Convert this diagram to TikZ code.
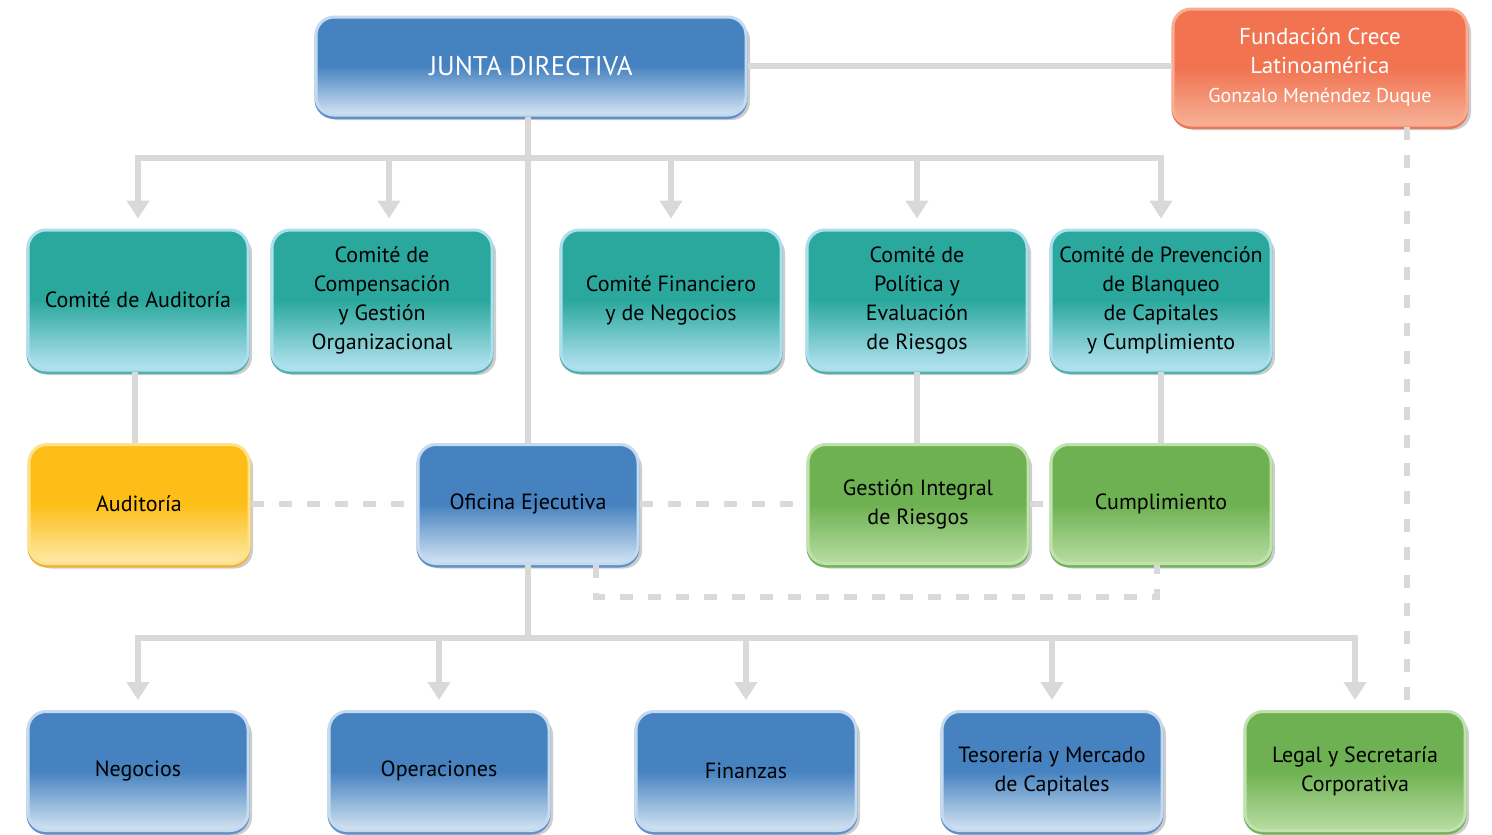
\documentclass[tikz,border=0pt]{standalone}
\usepackage{fontspec}
\setmainfont{PT Sans}
\usetikzlibrary{positioning, arrows.meta, shadows}

\definecolor{lnGray}{RGB}{217,217,218}
\definecolor{bluDk}{RGB}{70,130,192}
\definecolor{bluLt}{RGB}{212,228,242}
\definecolor{bluRim}{RGB}{196,219,239}
\definecolor{bluEdge}{RGB}{98,144,200}
\definecolor{tealDk}{RGB}{42,168,157}
\definecolor{tealLt}{RGB}{183,228,243}
\definecolor{tealRim}{RGB}{172,222,238}
\definecolor{tealEdge}{RGB}{86,176,170}
\definecolor{ylwDk}{RGB}{253,190,24}
\definecolor{ylwLt}{RGB}{253,234,168}
\definecolor{ylwRim}{RGB}{253,226,140}
\definecolor{ylwEdge}{RGB}{238,178,62}
\definecolor{grnDk}{RGB}{110,177,82}
\definecolor{grnLt}{RGB}{185,221,162}
\definecolor{grnRim}{RGB}{192,226,172}
\definecolor{grnEdge}{RGB}{118,178,92}
\definecolor{orgDk}{RGB}{241,115,80}
\definecolor{orgLt}{RGB}{246,176,150}
\definecolor{orgRim}{RGB}{247,172,148}
\definecolor{orgEdge}{RGB}{234,118,88}

\begin{document}
\begin{tikzpicture}[x=1pt, y=-1pt,
  box/.style={rounded corners=18pt, align=center, line width=3pt, inner sep=4pt,
              minimum width=220pt, font=\fontsize{22}{29}\selectfont,
              drop shadow={shadow xshift=4pt, shadow yshift=-5pt, opacity=.28, fill=black!70},
              general shadow={shadow yshift=-2.5pt, fill=#1Edge, draw=#1Edge, line width=3pt},
              draw=#1Rim, top color=#1Dk, bottom color=#1Lt, middle color=#1Dk},
  cmt/.style={box=teal, minimum height=140pt},
  unit/.style={box=#1, minimum height=119pt},
  ln/.style={draw=lnGray, line width=6pt},
  arr/.style={ln, -{Triangle[width=22pt, length=18pt]}, shorten >=10pt},
  dsh/.style={ln, dash pattern=on 13pt off 15pt}]
\useasboundingbox (0,0) rectangle (1492,835);
% Board and foundation.
\node[box=blu, text=white, minimum width=430pt, minimum height=98pt,
      font=\fontsize{27}{30}\selectfont] (junta) at (531,66) {JUNTA DIRECTIVA};
\node[box=org, text=white, minimum width=294pt, minimum height=116pt,
      font=\fontsize{23}{29}\selectfont] (fund) at (1320,67)
  {Fundación Crece\\Latinoamérica\\{\fontsize{20}{24}\selectfont Gonzalo Menéndez Duque}};
% Committees.
\node[cmt] (cAud) at (138,300) {Comité de Auditoría};
\node[cmt] (cComp) at (382,300) {Comité de\\Compensación\\y Gestión\\Organizacional};
\node[cmt] (cFin) at (671,300) {Comité Financiero\\y de Negocios};
\node[cmt] (cPol) at (917,300) {Comité de\\Política y\\Evaluación\\de Riesgos};
\node[cmt] (cPrev) at (1161,300) {Comité de Prevención\\de Blanqueo\\de Capitales\\y Cumplimiento};
% Control units and executive office.
\node[unit=ylw] (aud) at (139,504) {Auditoría};
\node[unit=blu] (ofi) at (528,504) {Oficina Ejecutiva};
\node[unit=grn] (gest) at (918,504) {Gestión Integral\\de Riesgos};
\node[unit=grn] (cump) at (1161,504) {Cumplimiento};
% Operating areas.
\node[unit=blu] (neg) at (138,771) {Negocios};
\node[unit=blu] (ope) at (439,771) {Operaciones};
\node[unit=blu] (fin) at (746,771) {Finanzas};
\node[unit=blu] (tes) at (1052,771) {Tesorería y Mercado\\de Capitales};
\node[unit=grn] (legal) at (1355,771) {Legal y Secretaría\\Corporativa};
% Solid reporting lines.
\coordinate (topBar) at (ofi.north |- 0,158);
\coordinate (lowBar) at (ofi.south |- 0,638);
\draw[ln] (junta.east) -- (junta.east -| fund.west);
\draw[ln] (ofi.north |- junta.south) -- (ofi.north);
\foreach \n in {cAud, cFin, cPol, cPrev} \draw[arr] (topBar) -| (\n.north);
\draw[arr] (topBar) -| ([xshift=7pt]cComp.north);
\foreach \n in {neg, ope, fin, tes, legal} \draw[arr] (lowBar) -| (\n.north);
\draw[ln] (ofi.south) -- (lowBar);
\draw[ln] ([xshift=-3pt]cAud.south) -- ([xshift=-3pt]cAud.south |- aud.north);
\draw[ln] (cPol.south) -- (cPol.south |- gest.north);
\draw[ln] (cPrev.south) -- (cump.north);
% Dashed coordination lines.
\draw[dsh] (aud.east) -- (aud.east -| ofi.west);
\draw[dsh] (ofi.east) -- (ofi.east -| gest.west);
\draw[dsh] (gest.east) -- (gest.east -| cump.west);
\draw[dsh] ([xshift=68pt]ofi.south) -- ++(0,32) -| ([xshift=-4pt]cump.south);
\draw[dsh] ([xshift=87pt]fund.south) -- ([xshift=87pt]fund.south |- legal.north);
\end{tikzpicture}
\end{document}
